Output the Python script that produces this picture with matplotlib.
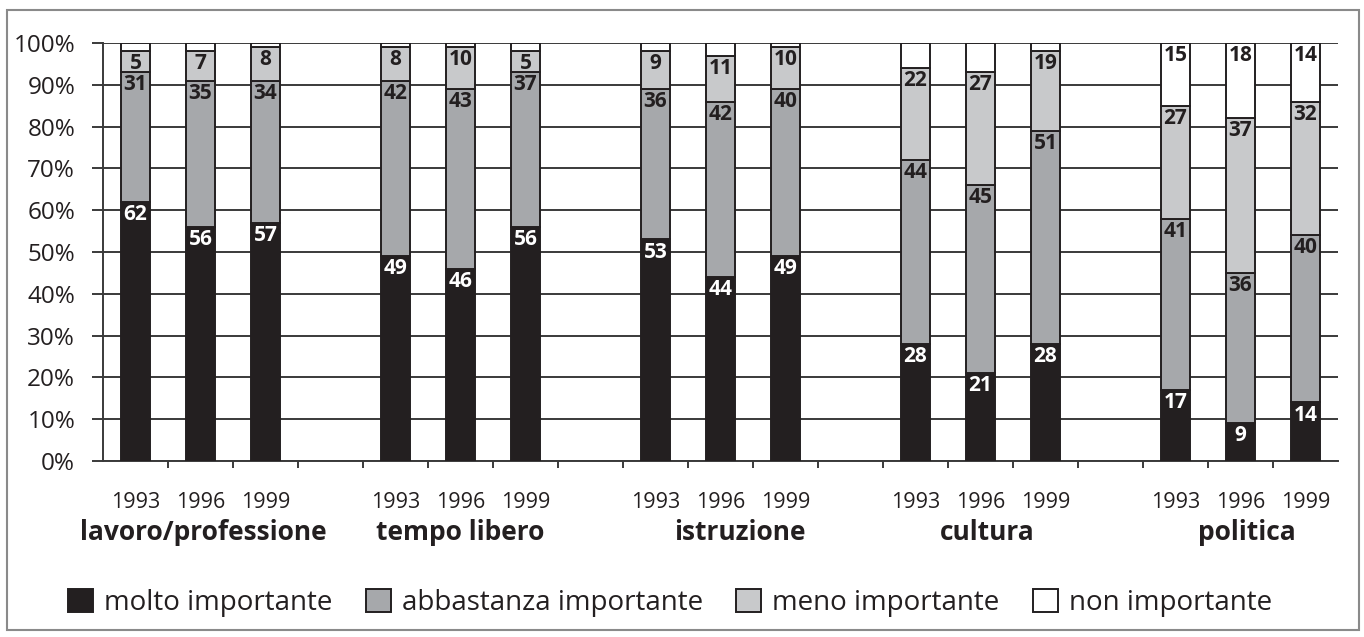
import matplotlib
matplotlib.use("Agg")
import matplotlib.pyplot as plt
import matplotlib.transforms as mtransforms
from matplotlib.patches import Patch, Rectangle
import numpy as np

plt.rcParams['font.family'] = ['Open Sans', 'DejaVu Sans']

categories = ["lavoro/professione", "tempo libero", "istruzione", "cultura", "politica"]
years = ["1993", "1996", "1999"]
series_names = ["molto importante", "abbastanza importante", "meno importante", "non importante"]

molto = [62, 56, 57, 49, 46, 56, 53, 44, 49, 28, 21, 28, 17, 9, 14]
abbastanza = [31, 35, 34, 42, 43, 37, 36, 42, 40, 44, 45, 51, 41, 36, 40]
meno = [5, 7, 8, 8, 10, 5, 9, 11, 10, 22, 27, 19, 27, 37, 32]
non = [2, 2, 1, 1, 1, 2, 2, 3, 1, 6, 7, 2, 15, 18, 14]

colors = ["#231f20", "#a6a8ab", "#c8c9cb", "#ffffff"]
text_colors = ["white", "#231f20", "#231f20", "#231f20"]
edge = "#231f20"

W, H = 1364, 637
fig = plt.figure(figsize=(W / 100, H / 100), dpi=100)
ax = fig.add_axes([103 / W, 1 - 461 / H, (1338 - 103) / W, (461 - 43) / H])

# positions: 3 bars per group, one empty slot between groups
positions = []
for g in range(len(categories)):
    for k in range(len(years)):
        positions.append(g * 4 + k)
positions = np.array(positions, dtype=float)

data = [molto, abbastanza, meno, non]
bottom = np.zeros(len(positions))
bw = 0.44
for si, vals in enumerate(data):
    vals = np.array(vals, dtype=float)
    ax.bar(positions, vals, bw, bottom=bottom, color=colors[si], edgecolor=edge,
           linewidth=1.4, zorder=3)
    for i, (x, v, b) in enumerate(zip(positions, vals, bottom)):
        show = (si < 3) or (v >= 10)
        if show:
            ax.annotate(f"{int(v)}", xy=(x, b + v), xytext=(0, -1.5), textcoords="offset points",
                        ha="center", va="top", fontsize=15, fontweight="bold",
                        color=text_colors[si], zorder=4)
    bottom = bottom + vals

ax.set_xlim(-0.5, 18.5)
ax.set_ylim(0, 100)

# y axis
yt = np.arange(0, 101, 10)
ax.set_yticks(yt)
ax.set_yticklabels([f"{v}%" for v in yt], fontsize=17.5, color="#231f20")
ax.tick_params(axis="y", length=8, width=1.4, color="#3a3a3a", pad=12)
ax.yaxis.grid(True, color="#3a3a3a", linewidth=1.4, zorder=0)
ax.set_axisbelow(True)

# x axis: boundary ticks, labels at bar centres
ax.set_xticks(np.arange(0.5, 18.0, 1.0))
ax.set_xticklabels([])
ax.tick_params(axis="x", which="major", length=5, width=1.4, color="#3a3a3a", direction="out")
ax.set_xticks(positions, minor=True)
ax.set_xticklabels(years * len(categories), minor=True, fontsize=15.5, color="#231f20")
ax.tick_params(axis="x", which="minor", length=0, pad=22)

for s in ["top", "right"]:
    ax.spines[s].set_visible(False)
for s in ["left", "bottom"]:
    ax.spines[s].set_color("#3a3a3a")
    ax.spines[s].set_linewidth(1.4)

# category labels
cat_x = [1.05, 5.0, 9.3, 13.1, 17.1]
trans = mtransforms.blended_transform_factory(ax.transData, fig.transFigure)
for cx, c in zip(cat_x, categories):
    ax.text(cx, 1 - 532 / H, c, transform=trans, ha="center", va="center",
            fontsize=19, fontweight="bold", color="#231f20")

# legend
handles = [Patch(facecolor=colors[i], edgecolor=edge, linewidth=1.4) for i in range(4)]
leg = fig.legend(handles, series_names, loc="center", bbox_to_anchor=(670 / W, 1 - 603 / H),
                 ncol=4, frameon=False, fontsize=20, handlelength=0.9, handleheight=0.9,
                 handletextpad=0.4, columnspacing=1.2)
for t in leg.get_texts():
    t.set_color("#231f20")

# outer frame
fig.patches.append(Rectangle((7 / W, 1 - 630 / H), (1359 - 7) / W, (630 - 10) / H,
                             transform=fig.transFigure, fill=False, edgecolor="#8a8a8a",
                             linewidth=1.5))

fig.savefig("out.png", dpi=100)
